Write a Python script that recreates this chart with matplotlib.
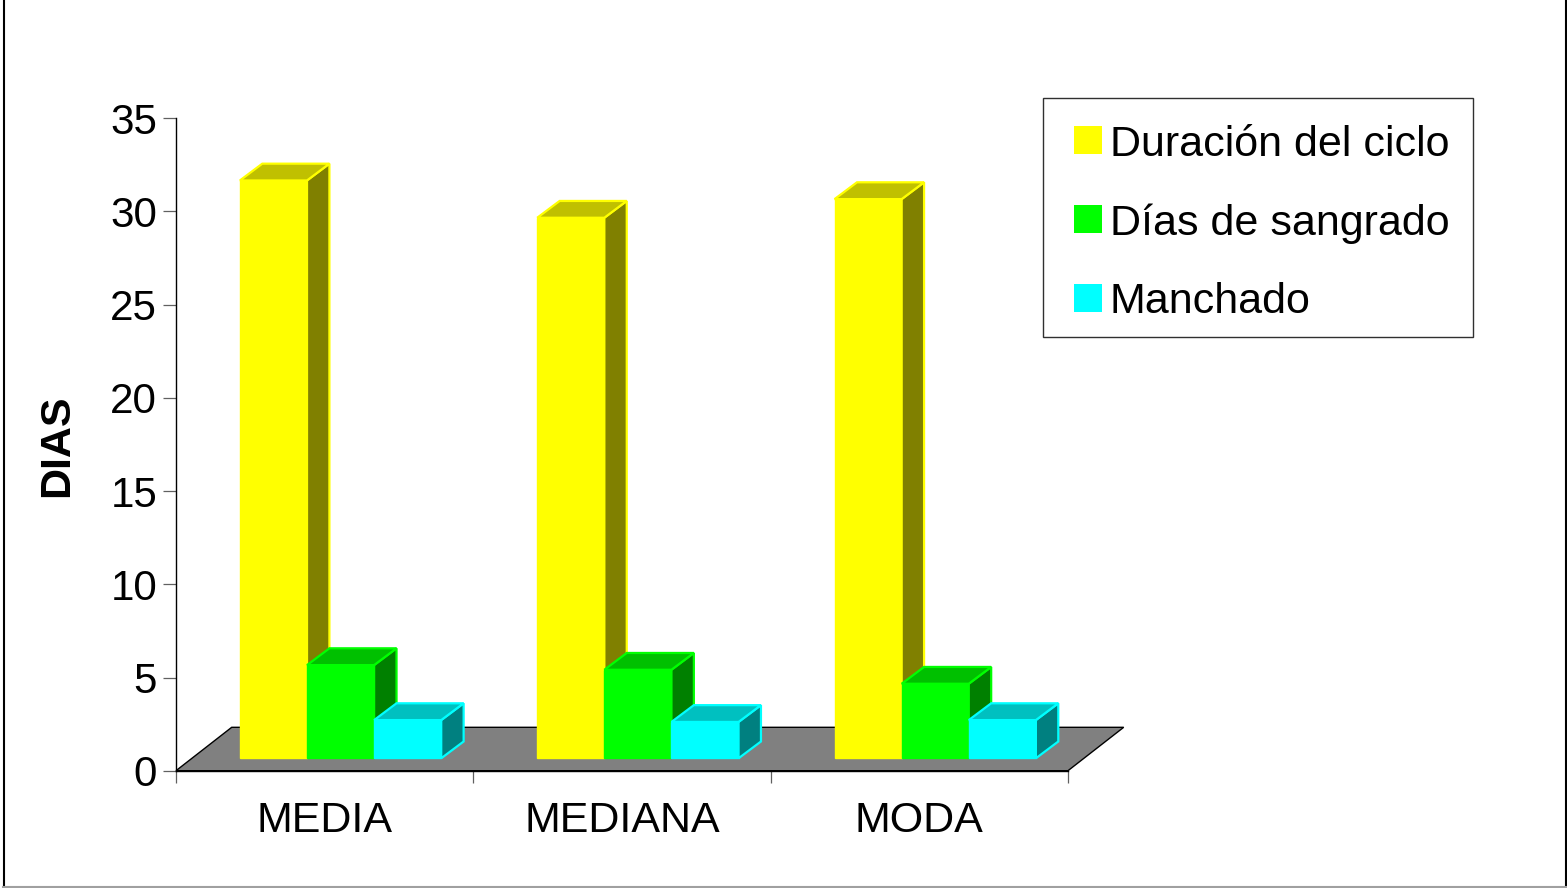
import matplotlib
matplotlib.use("Agg")
import matplotlib.pyplot as plt
from matplotlib.patches import Polygon, Rectangle
from matplotlib.lines import Line2D

# ---- data -------------------------------------------------------------
categories = ["MEDIA", "MEDIANA", "MODA"]
series_names = ["Duración del ciclo", "Días de sangrado", "Manchado"]
duracion_ciclo = [31.0, 29.0, 30.0]
dias_sangrado = [5.0, 4.75, 4.0]
manchado = [2.05, 1.95, 2.05]
y_ticks = [0, 5, 10, 15, 20, 25, 30, 35]

# face colours: front, top, side
palette = [
    ("#FFFF00", "#C0C000", "#808000"),
    ("#00FF00", "#00C000", "#008000"),
    ("#00FFFF", "#00C0C0", "#008080"),
]

plt.rcParams["font.family"] = ["Liberation Sans", "DejaVu Sans"]
FS_TICK = 30.3
FS = 31.0

W, H = 1567, 888
fig = plt.figure(figsize=(W / 100, H / 100), dpi=100)
fig.patch.set_facecolor("white")

# axes frame in pixels (x0, y_bottom, x1, y_top) measured from top-left
ax_l, ax_b, ax_r, ax_t = 176.0, 770.7, 1068.0, 118.3
ax = fig.add_axes([ax_l / W, 1 - ax_b / H, (ax_r - ax_l) / W, (ax_b - ax_t) / H])
ax.set_xlim(0, 3)
ax.set_ylim(0, 35)
ax.set_facecolor("none")

# pixel -> data conversion for the oblique depth offsets
px_x = (ax_r - ax_l) / 3.0
px_y = (ax_b - ax_t) / 35.0
floor_dx, floor_dy = 55.7 / px_x, 43.4 / px_y      # depth of the floor
plane_dx, plane_dy = 15.9 / px_x, 12.4 / px_y      # bars sit inside the floor
bar_dx, bar_dy = 22.4 / px_x, 16.8 / px_y          # depth of each bar

# floor
floor = Polygon([(0, 0), (3, 0), (3 + floor_dx, floor_dy), (floor_dx, floor_dy)],
                closed=True, facecolor="#808080", edgecolor="black", lw=1.0,
                clip_on=False, zorder=1)
ax.add_patch(floor)

# 3-D looking bars
width = 0.2257
series_values = [duracion_ciclo, dias_sangrado, manchado]
for j, (vals, (c_front, c_top, c_side)) in enumerate(zip(series_values, palette)):
    z = 3 + j
    xs = [i + 0.5 + (j - 1) * width + plane_dx for i in range(len(categories))]
    ax.bar(xs, vals, width=width, bottom=plane_dy, color=c_front,
           edgecolor=c_front, linewidth=1.0, zorder=z, clip_on=False)
    for xc, v in zip(xs, vals):
        x0, x1 = xc - width / 2, xc + width / 2
        y0, y1 = plane_dy, plane_dy + v
        top = Polygon([(x0, y1), (x1, y1), (x1 + bar_dx, y1 + bar_dy), (x0 + bar_dx, y1 + bar_dy)],
                      closed=True, facecolor=c_top, edgecolor=c_front, lw=1.6,
                      zorder=z, clip_on=False)
        side = Polygon([(x1, y0), (x1 + bar_dx, y0 + bar_dy), (x1 + bar_dx, y1 + bar_dy), (x1, y1)],
                       closed=True, facecolor=c_side, edgecolor=c_front, lw=1.6,
                       zorder=z, clip_on=False)
        ax.add_patch(side)
        ax.add_patch(top)

# axes styling
for s in ("top", "right"):
    ax.spines[s].set_visible(False)
for s in ("left", "bottom"):
    ax.spines[s].set_color("black")
    ax.spines[s].set_linewidth(1.0)
    ax.spines[s].set_zorder(2.5)

ax.set_yticks(y_ticks)
ax.tick_params(axis="y", direction="out", length=9.1, width=0.9, color="#606060",
               pad=4.5, labelsize=FS_TICK)

ax.set_xticks([0, 1, 2, 3])
ax.set_xticklabels([])
ax.set_xticks([0.5, 1.5, 2.5], minor=True)
ax.set_xticklabels(categories, minor=True)
ax.tick_params(axis="x", which="major", direction="out", length=8.6, width=0.9,
               color="#606060")
ax.tick_params(axis="x", which="minor", length=0, pad=22, labelsize=FS)

ax.set_ylabel("DIAS", fontsize=FS, fontweight="bold")
ax.yaxis.set_label_coords((77 - ax_l) / (ax_r - ax_l), (ax_b - 446) / (ax_b - ax_t))

# legend box
def fx(x):
    return x / W

def fy(y):
    return 1 - y / H

fig.add_artist(Rectangle((fx(1043.3), fy(336.7)), (1472.7 - 1043.3) / W, (336.7 - 98.3) / H,
                         transform=fig.transFigure, facecolor="white",
                         edgecolor="#303030", lw=1.0, zorder=5))
row_centers = [140.5, 219.2, 297.8]
sq = 28.0
for name, (c_front, _, _), yc in zip(series_names, palette, row_centers):
    fig.add_artist(Rectangle((fx(1073.5), fy(yc + sq / 2)), sq / W, sq / H,
                             transform=fig.transFigure, facecolor=c_front,
                             edgecolor="none", zorder=6))
    fig.text(fx(1109.5), fy(yc + 15.3), name, fontsize=FS, ha="left",
             va="baseline", zorder=7)

# outer frame
fig.add_artist(Line2D([fx(3.5), fx(3.5)], [fy(0), fy(887)], color="black", lw=1.5,
                      transform=fig.transFigure))
fig.add_artist(Line2D([fx(1565.5), fx(1565.5)], [fy(0), fy(887)], color="black", lw=1.5,
                      transform=fig.transFigure))
fig.add_artist(Line2D([fx(3), fx(1566)], [fy(886.8), fy(886.8)], color="#a0a0a0", lw=1.5,
                      transform=fig.transFigure))

fig.savefig("out.png", dpi=100)
